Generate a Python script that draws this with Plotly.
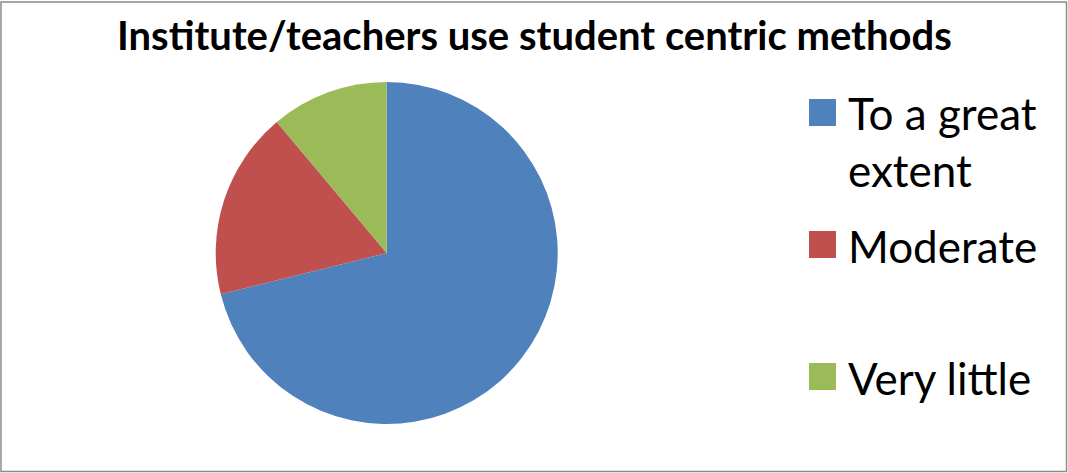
import plotly.graph_objects as go

labels = ["To a great extent", "Moderate", "Very little"]
legend_text = ["To a great<br>extent", "Moderate", "Very little"]
values = [32, 8, 5]
colors = ["#4F81BD", "#C0504D", "#9BBB59"]
title = "Institute/teachers use student centric methods"

W, H = 1068, 473
FONT = "Lato"

fig = go.Figure(go.Pie(
    labels=labels, values=values, sort=False, direction="clockwise", rotation=0,
    marker=dict(colors=colors, line=dict(width=0)), textinfo="none",
    hoverinfo="label+percent", showlegend=False,
    domain=dict(x=[215.7 / W, 557.7 / W], y=[49 / H, 391 / H]),
))

# legend drawn as shapes + annotations
legend_y = [112.5, 244.5, 376.5]  # pixel centers from top
shapes = [dict(type="rect", xref="paper", yref="paper", x0=1 / W, x1=1 - 1.5 / W,
               y0=1.5 / H, y1=1 - 2 / H, line=dict(color="#8C8C8C", width=1.5),
               fillcolor="rgba(0,0,0,0)")]
annotations = []
for i, (lab, col) in enumerate(zip(legend_text, colors)):
    yc = legend_y[i]
    shapes.append(dict(type="rect", xref="paper", yref="paper",
                       x0=809 / W, x1=836 / W, y0=1 - (yc + 13.5) / H, y1=1 - (yc - 13.5) / H,
                       fillcolor=col, line=dict(width=0)))
    annotations.append(dict(xref="paper", yref="paper", x=846 / W, y=1 - (yc - 27) / H,
                            xanchor="left", yanchor="top", text=lab, showarrow=False,
                            align="left", font=dict(family=FONT, size=44, color="black")))

annotations.append(dict(xref="paper", yref="paper", x=0.5, y=1 - 9 / H, xanchor="center",
                        yanchor="top", text="<b>" + title + "</b>", showarrow=False,
                        font=dict(family=FONT, size=40, color="black")))

fig.update_layout(width=W, height=H, margin=dict(l=0, r=0, t=0, b=0),
                  paper_bgcolor="white", plot_bgcolor="white",
                  shapes=shapes, annotations=annotations)
fig.write_html("out.html", config={"displayModeBar": False},
               post_script="document.body.style.margin='0';document.body.style.overflow='hidden';")
